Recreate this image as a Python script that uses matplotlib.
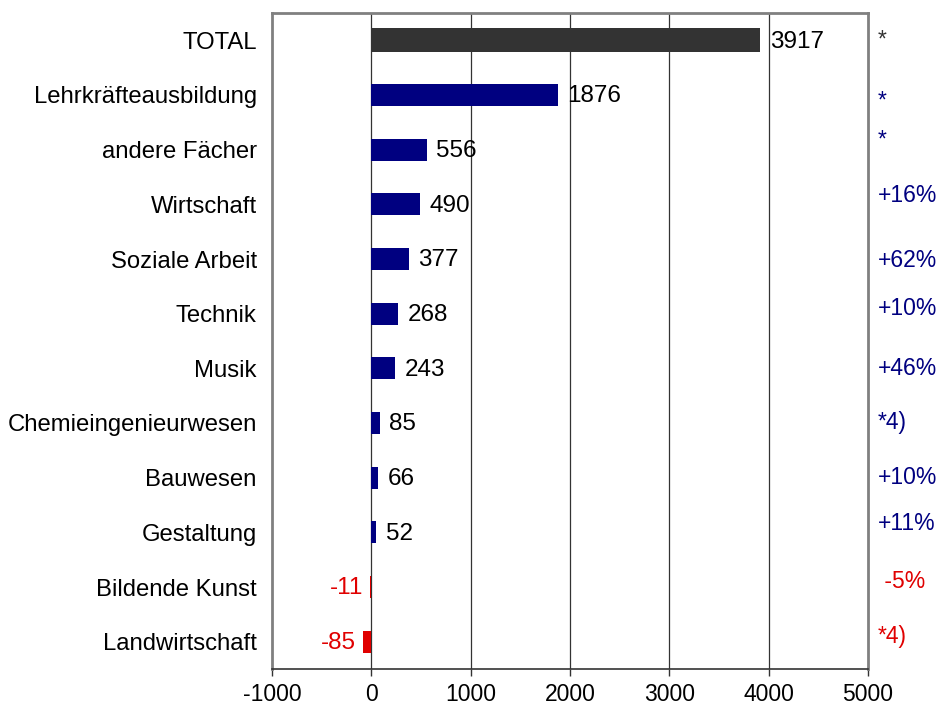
import matplotlib
matplotlib.use("Agg")
import matplotlib.pyplot as plt

plt.rcParams['font.family'] = ['Liberation Sans', 'DejaVu Sans']

categories = ['TOTAL', 'Lehrkräfteausbildung', 'andere Fächer', 'Wirtschaft',
              'Soziale Arbeit', 'Technik', 'Musik', 'Chemieingenieurwesen',
              'Bauwesen', 'Gestaltung', 'Bildende Kunst', 'Landwirtschaft']
values = [3917, 1876, 556, 490, 377, 268, 243, 85, 66, 52, -11, -85]
changes = ['*', '*', '*', '+16%', '+62%', '+10%', '+46%', '*4)',
           '+10%', '+11%', ' -5%', '*4)']
xticks = [-1000, 0, 1000, 2000, 3000, 4000, 5000]

NAVY = '#000080'
RED = '#e00000'
DARK = '#333333'

# small vertical nudges of the right-hand notes (points, + is up)
note_nudge = [0, -4, 7, 6, -1, 4, 0, 0, 0, 6, 4, 4]

fig = plt.figure(figsize=(9.41, 7.11), dpi=100)
ax = fig.add_axes([272 / 941, 42 / 711, 596 / 941, 656 / 711])

ypos = list(range(len(categories)))
colors = []
for i, v in enumerate(values):
    if i == 0:
        colors.append(DARK)
    elif v < 0:
        colors.append(RED)
    else:
        colors.append(NAVY)
heights = [0.44] + [0.4] * (len(values) - 1)

ax.set_xlim(-1000, 5000)
ax.set_ylim(len(categories) - 0.5, -0.5)

for x in xticks[1:-1]:
    ax.axvline(x, color='#333333', lw=0.9, zorder=1)

ax.barh(ypos, values, height=heights, color=colors, zorder=2)

for y, v in zip(ypos, values):
    if v >= 0:
        ax.annotate(str(v), (v, y), xytext=(7, -1), textcoords='offset points',
                    ha='left', va='center', fontsize=17.5, color='black')
    else:
        ax.annotate(str(v), (v, y), xytext=(-5, -1), textcoords='offset points',
                    ha='right', va='center', fontsize=17.5, color=RED)

for y, txt, c, dy in zip(ypos, changes, colors, note_nudge):
    ax.annotate(txt, (1.0, y), xycoords=('axes fraction', 'data'),
                xytext=(7, dy), textcoords='offset points',
                ha='left', va='center', fontsize=16.5, color=c)

ax.set_yticks(ypos)
ax.set_yticklabels(categories, fontsize=17.2)
ax.tick_params(axis='y', length=0, pad=11)
ax.set_xticks(xticks)
ax.set_xticklabels([str(t) for t in xticks], fontsize=16.5)
ax.tick_params(axis='x', direction='out', length=5, width=1, color='#333333', pad=5)

for side in ['left', 'top', 'right']:
    ax.spines[side].set_color('#808080')
    ax.spines[side].set_linewidth(2)
ax.spines['bottom'].set_color('#333333')
ax.spines['bottom'].set_linewidth(1.2)

fig.savefig('out.png', dpi=100)
